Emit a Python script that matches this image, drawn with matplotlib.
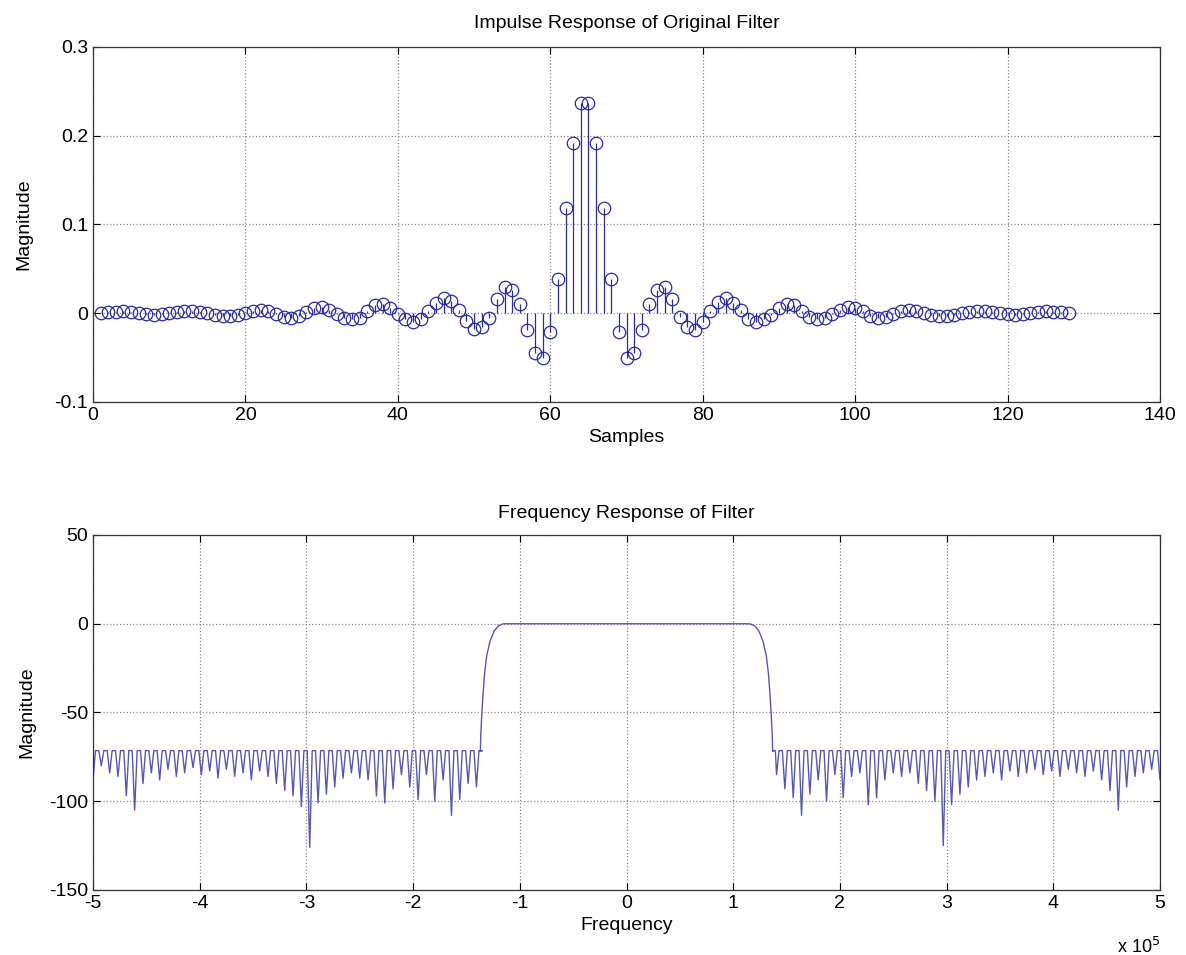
import matplotlib
matplotlib.use('Agg')
import matplotlib.pyplot as plt
from matplotlib.ticker import FuncFormatter
import numpy as np

plt.rcParams['font.family'] = ['Liberation Sans', 'DejaVu Sans']
plt.rcParams['axes.unicode_minus'] = False

# impulse response, samples 1..128
samples = np.arange(1, 129)
h = [
    0.000, 0.001, 0.001, 0.002, 0.001, 0.000, -0.001, -0.002, -0.001, 0.000,
    0.001, 0.002, 0.002, 0.001, 0.000, -0.002, -0.003, -0.003, -0.002, 0.000,
    0.003, 0.004, 0.003, -0.001, -0.004, -0.005, -0.003, 0.001, 0.006, 0.007,
    0.004, -0.001, -0.005, -0.007, -0.005, 0.003, 0.009, 0.010, 0.006, -0.001,
    -0.007, -0.010, -0.007, 0.003, 0.012, 0.017, 0.014, 0.004, -0.009, -0.018,
    -0.016, -0.005, 0.016, 0.029, 0.026, 0.010, -0.019, -0.045, -0.050, -0.021,
    0.039, 0.119, 0.192, 0.237, 0.237, 0.192, 0.119, 0.039, -0.021, -0.050,
    -0.045, -0.019, 0.010, 0.026, 0.029, 0.016, -0.004, -0.016, -0.019, -0.010,
    0.003, 0.013, 0.017, 0.012, 0.004, -0.007, -0.010, -0.007, -0.002, 0.006,
    0.010, 0.009, 0.003, -0.004, -0.007, -0.005, -0.001, 0.004, 0.007, 0.006,
    0.002, -0.003, -0.005, -0.004, -0.001, 0.003, 0.004, 0.003, 0.000, -0.002,
    -0.003, -0.003, -0.002, 0.000, 0.001, 0.002, 0.002, 0.001, 0.000, -0.001,
    -0.002, -0.001, 0.000, 0.001, 0.002, 0.001, 0.001, 0.000,
]

# frequency response: passband / transition (Hz, dB)
trans_f = [-1.37e5, -1.365e5, -1.355e5, -1.345e5, -1.33e5, -1.31e5, -1.28e5,
           -1.24e5, -1.20e5, -1.16e5, -1.12e5,
           1.12e5, 1.16e5, 1.20e5, 1.24e5, 1.28e5, 1.31e5, 1.33e5, 1.345e5,
           1.355e5, 1.365e5, 1.37e5]
trans_db = [-72, -62, -50, -40, -28, -18, -10, -4, -1.2, -0.1, 0,
            0, -0.1, -1.2, -4, -10, -18, -28, -40, -50, -62, -72]

# stopband: ripple tops and null depths per lobe (lobe spacing fs/128)
lobe_w = 7812.5
stop_peak_db = -71.5
left_nulls_db = [
    -88, -80, -84, -86, -97, -105, -90, -84, -88, -82,
    -86, -84, -81, -85, -83, -87, -82, -86, -84, -88,
    -83, -86, -90, -94, -97, -103, -126, -101, -96, -92,
    -87, -84, -87, -88, -97, -101, -93, -85, -92, -99,
    -85, -100, -88, -108, -99, -90, -92,
]
right_nulls_db = [
    -85, -93, -98, -108, -96, -88, -100, -85, -98, -86,
    -84, -102, -98, -88, -84, -86, -84, -90, -94, -100,
    -125, -102, -96, -92, -88, -86, -84, -88, -83, -86,
    -84, -82, -85, -83, -86, -82, -84, -86, -83, -88,
    -94, -105, -92, -86, -84, -82, -88,
]

# build the stopband curves: null, then a flat ripple top
left_f0 = -5e5 + lobe_w * np.arange(len(left_nulls_db))
right_f0 = 1.406e5 + lobe_w * np.arange(len(right_nulls_db))


def lobes(f0, nulls, last_top=True):
    fx, dy = [], []
    for i, (f, d) in enumerate(zip(f0, nulls)):
        fx.append(f)
        dy.append(d)
        if i < len(f0) - 1 or last_top:
            fx += [f + 0.3 * lobe_w, f + 0.7 * lobe_w]
            dy += [stop_peak_db, stop_peak_db]
    return fx, dy


lf, ld = lobes(left_f0, left_nulls_db, last_top=True)
rf, rd = lobes(right_f0, right_nulls_db, last_top=False)
# right side starts right after the transition: prepend a ripple top
freq = lf + trans_f + [1.38e5, 1.395e5] + rf
mag_db = ld + trans_db + [stop_peak_db, stop_peak_db] + rd

fig = plt.figure(figsize=(11.86, 9.55), dpi=100)
ax1 = fig.add_axes([0.0784, 0.5791, 0.8997, 0.3717])
ax2 = fig.add_axes([0.0784, 0.0681, 0.8997, 0.3717])

stem_color = '#2a2aa6'
markerline, stemlines, baseline = ax1.stem(samples, h, linefmt='-', markerfmt='o', basefmt=' ')
markerline.set_color(stem_color)
markerline.set_markerfacecolor('none')
markerline.set_markersize(9)
markerline.set_markeredgewidth(0.9)
stemlines.set_color(stem_color)
stemlines.set_linewidth(0.9)

ax2.plot(freq, mag_db, color='#5656b8', linewidth=1.0)

for ax in (ax1, ax2):
    ax.grid(True, linestyle=':', color='#888888', linewidth=0.9)
    ax.tick_params(direction='in', top=True, right=True, length=5, labelsize=14)
    ax.set_axisbelow(True)
    for sp in ax.spines.values():
        sp.set_linewidth(0.9)
        sp.set_color('#333333')

ax1.set_xlim(0, 140)
ax1.set_ylim(-0.1, 0.3)
ax1.set_xticks(np.arange(0, 141, 20))
ax1.set_yticks([-0.1, 0, 0.1, 0.2, 0.3])
ax1.set_yticklabels(['-0.1', '0', '0.1', '0.2', '0.3'])
ax1.set_title('Impulse Response of Original Filter', fontsize=14, pad=14)
ax1.set_xlabel('Samples', fontsize=14, labelpad=4)
ax1.set_ylabel('Magnitude', fontsize=14, labelpad=16)

ax2.set_xlim(-5e5, 5e5)
ax2.set_ylim(-150, 50)
ax2.set_xticks(np.arange(-5e5, 5.01e5, 1e5))
ax2.xaxis.set_major_formatter(FuncFormatter(lambda v, p: f'{v / 1e5:.0f}'))
ax2.set_yticks(np.arange(-150, 51, 50))
ax2.set_title('Frequency Response of Filter', fontsize=14, pad=12)
ax2.set_xlabel('Frequency', fontsize=14, labelpad=4)
ax2.set_ylabel('Magnitude', fontsize=14, labelpad=10)
ax2.text(1.0, -0.16, r'x 10$^5$', transform=ax2.transAxes, ha='right', va='center', fontsize=13)

fig.savefig('out.png', dpi=100)
